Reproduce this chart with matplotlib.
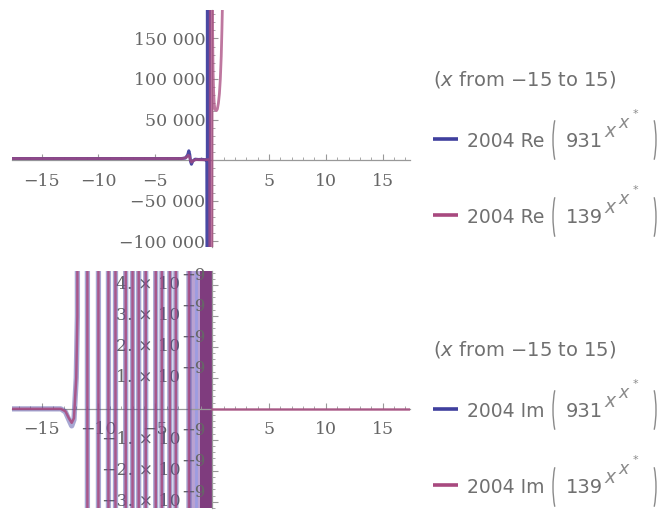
import matplotlib
matplotlib.use('Agg')
import matplotlib.pyplot as plt
from matplotlib.ticker import FixedLocator, MultipleLocator, FuncFormatter, NullFormatter
from matplotlib.transforms import offset_copy
from matplotlib.patches import Arc

plt.rcParams['font.family'] = 'DejaVu Serif'

# ---- data ----
# top panel: 2004 Re(931^(x^x*)) and 2004 Re(139^(x^x*))
re_blue_x = [-17.6, -2.7, -2.35, -2.15, -2.05, -1.97, -1.9, -1.82, -1.7, -1.5, -1.2, -0.9, -0.6, -0.45,
             -0.42, -0.42, -0.36, -0.36, -0.31, -0.31, -0.26, -0.26, -0.21]
re_blue_y = [2004, 2004, 2600, 6500, 11500, 7000, -1500, -5000, -1000, 1200, 800, 1000, 500, 0,
             -3e5, 3e5, 3e5, -3e5, -3e5, 3e5, 3e5, -3e5, -3e5]
re_pink_x = [-17.6, -2.6, -2.25, -2.1, -2.0, -1.9, -1.8, -1.65, -1.4, -1.0, -0.6, -0.3, -0.2,
             -0.17, -0.17, -0.12, -0.12, -0.08, -0.08, -0.04, -0.04, 0.0,
             0.04, 0.08, 0.13, 0.18, 0.24, 0.3, 0.38, 0.46, 0.55, 0.64, 0.72, 0.8, 0.86, 0.92]
re_pink_y = [2004, 2004, 3500, 6000, 5000, -500, -2500, -500, 800, 500, 400, 600, 0,
             -3e5, 3e5, 3e5, -3e5, -3e5, 3e5, 3e5, -3e5, 278000,
             160000, 110000, 85000, 70000, 63000, 61500, 61000, 63000, 70000, 82000, 100000,
             128000, 160000, 200000]
re_yticks = [-100000, -50000, 50000, 100000, 150000]

# bottom panel: 2004 Im(...) -- a dip, then fast oscillations running off the scale
im_dip_x = [-17.6, -13.3, -12.9, -12.6, -12.35, -12.15, -11.95, -11.85]
im_blue_dip = [0, 0, -0.1e-9, -0.35e-9, -0.55e-9, -0.35e-9, 1.0e-9, 3.0e-9]
im_pink_dip = [0, 0, -0.08e-9, -0.3e-9, -0.45e-9, -0.3e-9, 1.0e-9, 3.0e-9]
im_cross = [-11.75, -10.97, -10.0, -9.12, -8.5, -7.6, -7.0, -6.46, -5.84,
            -4.96, -4.42, -3.72, -3.19, -2.04]
im_off = 1e-7
im_light_band = (-2.0, -1.1)
im_dark_band = (-1.1, 0.0)
im_band_line = -1.4
im_zero_x = [0.0, 17.4]
im_zero_y = [0.0, 0.0]
im_ytick_mant = [-3, -2, -1, 1, 2, 3, 4]
im_ytick_exp = -9

x_ticks = [-15, -10, -5, 5, 10, 15]

blue = '#3F3F9E'
pink = '#A8497F'
grey = '#666666'
axis_grey = '#999999'

fig = plt.figure(figsize=(6.58, 5.21), dpi=100)
ax1 = fig.add_axes([12/658, 1-247/521, 398/658, 237/521])
ax2 = fig.add_axes([12/658, 1-508/521, 398/658, 237/521])


def style_axes(ax):
    for s in ['top', 'right']:
        ax.spines[s].set_visible(False)
    for s in ['left', 'bottom']:
        ax.spines[s].set_position(('data', 0))
        ax.spines[s].set_color(axis_grey)
        ax.spines[s].set_linewidth(0.9)
    ax.set_xlim(-17.6, 17.4)
    ax.xaxis.set_major_locator(FixedLocator(x_ticks))
    ax.xaxis.set_minor_locator(MultipleLocator(1))
    ax.xaxis.set_major_formatter(FuncFormatter(lambda v, p: f'{v:.0f}'.replace('-', '\u2212')))
    ax.tick_params(which='both', direction='in', colors=axis_grey, labelcolor=grey, labelsize=12.5)
    ax.tick_params(axis='x', which='major', length=4.5, pad=9)
    ax.tick_params(axis='x', which='minor', length=2.5)
    ax.tick_params(axis='y', which='major', length=4, pad=5)
    ax.tick_params(axis='y', which='minor', length=2)
    ax.set_axisbelow(False)
    ax.set_facecolor('none')


# top panel
style_axes(ax1)
ax1.plot(re_blue_x, re_blue_y, color=blue, lw=2.2, alpha=0.95, zorder=3)
ax1.plot(re_pink_x, re_pink_y, color=pink, lw=2.0, alpha=0.75, zorder=3)
ax1.set_ylim(-107000, 185000)
ax1.yaxis.set_major_locator(FixedLocator(re_yticks))
ax1.yaxis.set_minor_locator(MultipleLocator(10000))
ax1.yaxis.set_major_formatter(FuncFormatter(
    lambda v, p: f'{v:,.0f}'.replace(',', ' ').replace('-', '\u2212')))

# bottom panel: zigzag through the crossing positions, alternating down / up
path_x = im_dip_x + [im_cross[0]]
path_blue = im_blue_dip + [im_off]
path_pink = im_pink_dip + [im_off]
for i, c in enumerate(im_cross[1:]):
    seg = (im_off, -im_off) if i % 2 == 0 else (-im_off, im_off)
    path_x += [c, c]
    path_blue += list(seg)
    path_pink += list(seg)

style_axes(ax2)
ax2.plot(path_x, path_blue, color=blue, lw=3.8, alpha=0.45, zorder=3)
ax2.plot(path_x, path_pink, color=pink, lw=1.8, alpha=0.85, zorder=3)
ax2.axvspan(*im_light_band, color='#b9a2d2', lw=0, zorder=2)
ax2.axvspan(*im_dark_band, color='#7f3c7e', lw=0, zorder=2)
ax2.axvline(im_band_line, color='#9c9ce0', lw=2, zorder=2.1)
ax2.plot(im_zero_x, im_zero_y, color=pink, lw=1.8, alpha=0.8, zorder=3)
ax2.set_ylim(-3.2e-9, 4.45e-9)
im_yticks = [m * 10.0 ** im_ytick_exp for m in im_ytick_mant]
ax2.yaxis.set_major_locator(FixedLocator(im_yticks))
ax2.yaxis.set_minor_locator(MultipleLocator(0.2e-9))
ax2.yaxis.set_major_formatter(NullFormatter())

# Mathematica-style "4. × 10^-9" labels with a full-size exponent
base_tr = offset_copy(ax2.transData, fig=fig, x=-32, y=0, units='dots')
exp_tr = offset_copy(ax2.transData, fig=fig, x=-31, y=9, units='dots')
for m, v in zip(im_ytick_mant, im_yticks):
    ax2.text(0, v, f'{m}. \u00d7 10'.replace('-', '\u2212'), transform=base_tr,
             ha='right', va='center', fontsize=12.5, color=grey, zorder=2.5)
    ax2.text(0, v, f'{im_ytick_exp}'.replace('-', '\u2212'), transform=exp_tr,
             ha='left', va='center', fontsize=12, color=grey, zorder=2.5)

# legends, drawn in pixel coordinates on a transparent overlay
lg = fig.add_axes([0, 0, 1, 1])
lg.axis('off')
lg.set_xlim(0, 658)
lg.set_ylim(521, 0)

legend_color = '#707070'


def header(base):
    lg.text(433, base, r'($x$ from $-$15 to 15)', fontsize=14, color=legend_color,
            family='DejaVu Sans', math_fontfamily='dejavusans', va='baseline')


def entry(base, color, part, num, pc):
    lg.plot([433, 458], [base - 8, base - 8], color=color, lw=2.6, solid_capstyle='butt')
    lg.text(467, base, '2004 ' + part, fontsize=13.5, color=legend_color,
            family='DejaVu Sans', va='baseline')
    lg.text(566, base, num, fontsize=14, color=legend_color,
            family='DejaVu Sans', va='baseline')
    lg.text(604, base - 10, 'x', fontsize=13.5, color='#8a8a8a', style='italic',
            family='DejaVu Sans', va='baseline')
    lg.text(618, base - 19, 'x', fontsize=12.5, color='#8a8a8a', style='italic',
            family='DejaVu Sans', va='baseline')
    lg.text(633, base - 30, '*', fontsize=8, color='#8a8a8a',
            family='DejaVu Sans', va='baseline')
    lg.add_patch(Arc((553 + 11, pc), 22, 72, theta1=115, theta2=245,
                     color='#8a8a8a', lw=1.0))
    lg.add_patch(Arc((656 - 11, pc), 22, 72, theta1=-65, theta2=65,
                     color='#8a8a8a', lw=1.0))


header(86)
entry(147, blue, 'Re', '931', 140)
entry(223, pink, 'Re', '139', 217)
header(356)
entry(417, blue, 'Im', '931', 410)
entry(493, pink, 'Im', '139', 487)

fig.savefig('out.png', dpi=100)
